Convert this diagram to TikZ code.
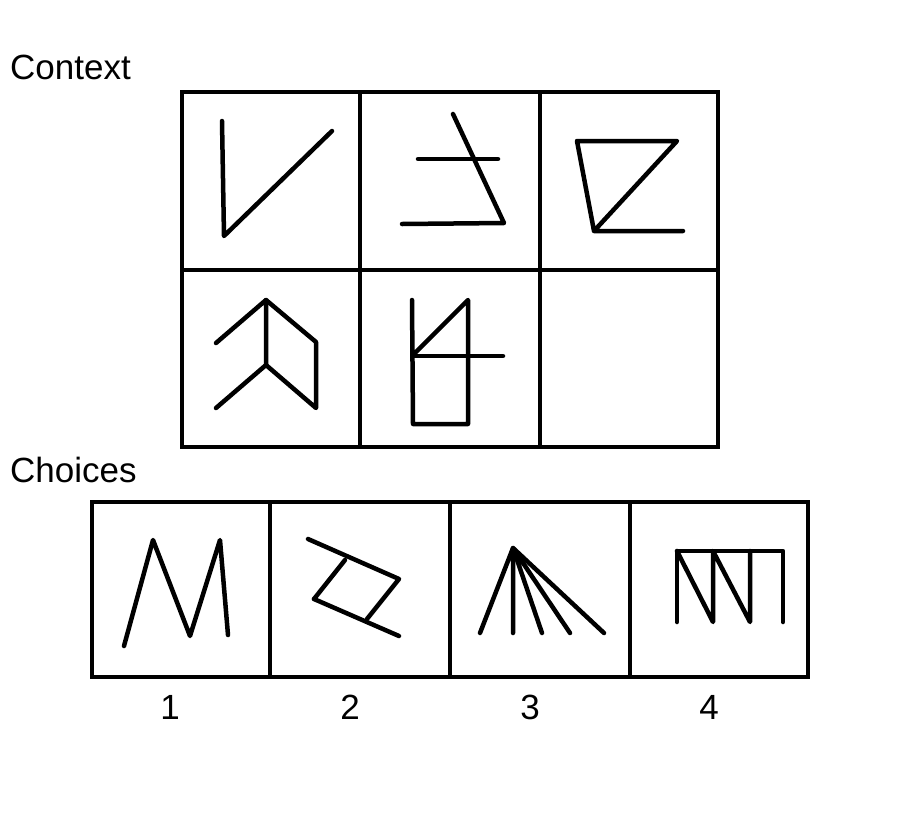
\documentclass[tikz,border=0pt]{standalone}
\usepackage{fontspec}
\setmainfont{Liberation Sans}
\tikzset{
  frame/.style={line width=4.5pt},
  glyph/.style={line width=4.5pt, line cap=round, line join=round},
  lbl/.style={font=\fontsize{35}{42}\selectfont, inner sep=0pt}
}
\begin{document}
\begin{tikzpicture}[x=1pt,y=-1pt]
        \useasboundingbox (0,0) rectangle (900,820);
        \node[lbl, anchor=base west] (context) at (10,79) {Context};
        \node[lbl, anchor=base west] (choices) at (10,482) {Choices};
        % context grid
        \draw[frame] (182,92) rectangle (718,447);
        \draw[frame] (360,92) -- (360,447);
        \draw[frame] (540,92) -- (540,447);
        \draw[frame] (182,270) -- (718,270);
        % context figures
        \draw[glyph] (222,121) -- (224,236) -- (332,131);
        \draw[glyph] (453,114) -- (504,223) -- (402,224);
        \draw[glyph] (418,159) -- (498,159);
        \draw[glyph] (594,231) -- (577,141) -- (677,141) -- (594,231) -- (683,231);
        \draw[glyph] (216,343) -- (266,300) -- (266,365);
        \draw[glyph] (266,300) -- (316,342) -- (316,408) -- (266,365) -- (216,408);
        \draw[glyph] (412,300) -- (413,424) -- (468,424) -- (468,300) -- (413,355);
        \draw[glyph] (413,356) -- (503,356);
        % choices row
        \draw[frame] (92,502) rectangle (808,677);
        \draw[frame] (270,502) -- (270,677);
        \draw[frame] (450,502) -- (450,677);
        \draw[frame] (630,502) -- (630,677);
        % choice figures
        \draw[glyph] (124,646) -- (153,540) -- (190,636) -- (220,540) -- (228,635);
        \draw[glyph] (308,539) -- (399,579) -- (367,619);
        \draw[glyph] (314,599) -- (399,636);
        \draw[glyph] (345,560) -- (314,599);
        \draw[glyph] (480,633) -- (513,548) -- (513,633);
        \draw[glyph] (542,633) -- (513,548) -- (570,633);
        \draw[glyph] (513,548) -- (604,633);
        \draw[glyph] (677,622) -- (677,551) -- (783,551) -- (783,622);
        \draw[glyph] (677,551) -- (713,622) -- (713,551) -- (750,622) -- (750,551);
        % choice numbers
        \node[lbl, anchor=base] (num1) at (170,719) {1};
        \node[lbl, anchor=base] (num2) at (350,719) {2};
        \node[lbl, anchor=base] (num3) at (530,719) {3};
        \node[lbl, anchor=base] (num4) at (709,719) {4};
\end{tikzpicture}
\end{document}
